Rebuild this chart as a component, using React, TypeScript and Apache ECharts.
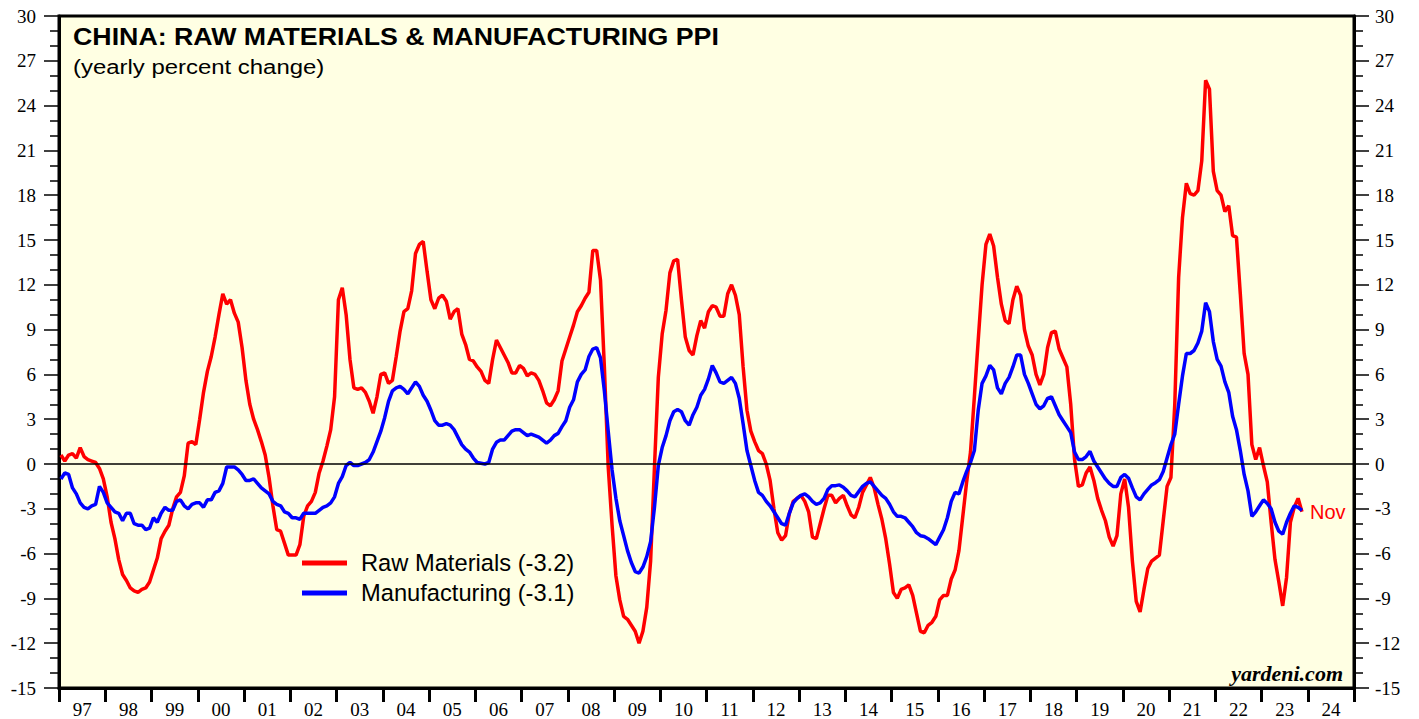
import React, { useEffect, useRef } from 'react';
import * as echarts from 'echarts';

const yearLabels = ['97', '98', '99', '00', '01', '02', '03', '04', '05', '06', '07', '08', '09', '10', '11', '12', '13', '14', '15', '16', '17', '18', '19', '20', '21', '22', '23', '24'];
const firstYear = 1997;

// Monthly, Jan 1997 .. Nov 2023 (yearly percent change)
const rawMaterials = [
  0.6, 0.2, 0.6, 0.7, 0.4, 1.1, 0.5, 0.3, 0.2, 0.1, -0.3, -1.0,
  -2.2, -3.9, -5.0, -6.4, -7.4, -7.8, -8.3, -8.5, -8.6, -8.4, -8.3, -7.9,
  -7.1, -6.3, -5.0, -4.5, -4.1, -3.0, -2.2, -1.9, -0.8, 1.4, 1.5, 1.3,
  3.0, 4.8, 6.2, 7.2, 8.5, 10.0, 11.4, 10.7, 11.0, 10.1, 9.5, 7.8,
  5.6, 4.0, 3.0, 2.3, 1.5, 0.6, -0.9, -2.8, -4.4, -4.5, -5.3, -6.1,
  -6.1, -6.1, -5.4, -3.5, -2.8, -2.5, -1.9, -0.6, 0.2, 1.2, 2.3, 4.5,
  11.0, 11.8, 10.0, 7.0, 5.1, 5.0, 5.1, 4.8, 4.2, 3.4, 4.5, 6.0,
  6.1, 5.4, 5.6, 7.2, 8.9, 10.2, 10.4, 11.6, 14.1, 14.7, 14.9, 12.9,
  11.0, 10.4, 11.1, 11.3, 10.9, 9.7, 10.2, 10.4, 8.7, 8.0, 7.0, 6.9,
  6.5, 6.2, 5.6, 5.4, 7.0, 8.3, 7.8, 7.3, 6.8, 6.1, 6.1, 6.6,
  6.4, 5.9, 6.1, 6.0, 5.6, 4.9, 4.1, 3.9, 4.3, 4.9, 6.9, 7.7,
  8.5, 9.3, 10.2, 10.6, 11.1, 11.5, 14.3, 14.3, 12.3, 6.5, -0.2, -4.1,
  -7.5, -9.1, -10.2, -10.4, -10.8, -11.2, -12.0, -11.2, -9.6, -6.5, -0.2, 5.8,
  8.7, 10.3, 12.8, 13.6, 13.7, 11.0, 8.5, 7.6, 7.3, 8.6, 9.6, 9.1,
  10.2, 10.6, 10.5, 9.9, 9.9, 11.4, 12.0, 11.3, 10.0, 6.5, 3.6, 2.2,
  1.5, 0.9, 0.7, 0.0, -1.1, -3.0, -4.6, -5.1, -4.8, -3.3, -2.5, -2.3,
  -2.1, -2.5, -3.2, -4.9, -5.0, -4.0, -3.0, -2.1, -2.1, -2.6, -2.3, -2.1,
  -2.8, -3.4, -3.6, -2.9, -1.9, -1.4, -0.9, -1.6, -2.7, -3.7, -5.0, -6.7,
  -8.6, -9.0, -8.4, -8.3, -8.1, -8.8, -10.0, -11.2, -11.3, -10.8, -10.6, -10.2,
  -9.1, -8.8, -8.8, -7.7, -7.1, -5.8, -3.5, -1.2, 0.8, 4.5, 8.3, 12.0,
  14.7, 15.4, 14.6, 12.5, 10.7, 9.6, 9.4, 11.0, 11.9, 11.3, 9.0, 7.9,
  7.3, 6.0, 5.3, 6.0, 7.8, 8.8, 8.9, 7.7, 7.1, 6.5, 4.0, 0.3,
  -1.5, -1.4, -0.6, -0.2, -1.1, -2.3, -3.1, -3.8, -4.9, -5.5, -4.8, -2.0,
  -1.0, -2.9, -6.5, -9.2, -9.9, -8.4, -7.0, -6.5, -6.3, -6.1, -3.8, -1.5,
  -0.9, 4.0, 12.5, 16.5, 18.8, 18.1, 18.0, 18.3, 20.3, 25.7, 25.1, 19.6,
  18.3, 18.0, 16.9, 17.3, 15.3, 15.2, 11.4, 7.4, 6.0, 1.3, 0.3, 1.1,
  -0.1, -1.2, -3.9, -6.4, -7.9, -9.5, -7.6, -3.9, -2.9, -2.3, -3.2,
];

const manufacturing = [
  -1.0, -0.6, -0.7, -1.6, -2.0, -2.6, -2.9, -3.0, -2.8, -2.7, -1.5, -1.9,
  -2.6, -2.9, -3.2, -3.3, -3.8, -3.3, -3.3, -4.0, -4.1, -4.1, -4.4, -4.3,
  -3.6, -3.9, -3.3, -2.9, -3.1, -3.1, -2.5, -2.4, -2.8, -3.0, -2.7, -2.6,
  -2.6, -2.9, -2.4, -2.4, -1.9, -1.8, -1.3, -0.2, -0.2, -0.2, -0.4, -0.7,
  -1.1, -1.1, -1.0, -1.3, -1.6, -1.8, -2.0, -2.5, -2.7, -2.8, -3.2, -3.3,
  -3.6, -3.6, -3.7, -3.3, -3.3, -3.3, -3.3, -3.1, -2.9, -2.8, -2.6, -2.2,
  -1.3, -0.85, -0.1, 0.1, -0.1, -0.1, 0.0, 0.1, 0.3, 0.8, 1.5, 2.2,
  3.1, 4.2, 4.9, 5.1, 5.2, 5.0, 4.7, 5.1, 5.5, 5.2, 4.6, 4.2,
  3.6, 2.9, 2.6, 2.6, 2.7, 2.6, 2.3, 1.8, 1.3, 1.0, 0.8, 0.4,
  0.1, 0.05, 0.0, 0.1, 1.0, 1.45, 1.6, 1.6, 1.9, 2.2, 2.3, 2.3,
  2.1, 1.9, 2.0, 1.9, 1.8, 1.6, 1.4, 1.6, 1.9, 2.05, 2.5, 2.9,
  3.8, 4.3, 5.5, 6.0, 6.3, 7.2, 7.7, 7.8, 7.1, 4.9, 2.2, -0.4,
  -2.3, -3.8, -4.8, -5.8, -6.6, -7.2, -7.3, -6.9, -6.2, -5.2, -2.9, -0.1,
  1.1, 1.9, 2.9, 3.5, 3.65, 3.5, 2.9, 2.6, 3.3, 3.8, 4.6, 5.0,
  5.7, 6.6, 6.1, 5.5, 5.4, 5.6, 5.8, 5.4, 4.4, 2.7, 0.9, -0.1,
  -1.1, -1.9, -2.1, -2.5, -2.8, -3.2, -3.6, -4.0, -4.1, -3.3, -2.6, -2.3,
  -2.1, -2.0, -2.2, -2.5, -2.7, -2.6, -2.3, -1.7, -1.45, -1.45, -1.4, -1.55,
  -1.8, -2.1, -2.2, -1.85, -1.5, -1.3, -1.2, -1.5, -1.8, -2.1, -2.3, -2.7,
  -3.2, -3.5, -3.5, -3.6, -3.9, -4.2, -4.6, -4.8, -4.85, -5.0, -5.2, -5.4,
  -4.9, -4.4, -3.6, -2.5, -1.9, -2.0, -1.2, -0.5, 0.1, 0.9, 3.6, 5.4,
  5.9, 6.6, 6.3, 5.1, 4.7, 5.4, 5.8, 6.5, 7.3, 7.3, 6.0, 5.4,
  4.7, 4.0, 3.7, 3.9, 4.4, 4.5, 3.9, 3.3, 2.9, 2.5, 2.1, 0.8,
  0.3, 0.3, 0.5, 0.85, 0.2, -0.2, -0.6, -1.0, -1.3, -1.5, -1.5, -0.9,
  -0.7, -0.95, -1.6, -2.2, -2.4, -2.0, -1.7, -1.4, -1.25, -1.05, -0.5, 0.4,
  1.3, 2.0, 4.0, 5.9, 7.4, 7.4, 7.6, 8.1, 8.9, 10.8, 10.2, 8.2,
  7.0, 6.55, 5.5, 4.8, 3.2, 2.3, 0.9, -0.7, -1.8, -3.5, -3.2, -2.8,
  -2.4, -2.65, -3.0, -3.9, -4.5, -4.7, -3.9, -3.3, -2.8, -2.9, -3.1,
];

const seriesNames = ['Raw Materials (-3.2)', 'Manufacturing (-3.1)'];
const lastMonthLabel = 'Nov';
const titleText = 'CHINA: RAW MATERIALS & MANUFACTURING PPI';
const subtitleText = '(yearly percent change)';
const sourceText = 'yardeni.com';

const monthCategories: string[] = [];
for (let i = 0; i < yearLabels.length * 12; i++) {
  const y = firstYear + Math.floor(i / 12);
  const m = (i % 12) + 1;
  monthCategories.push(`${y}-${m < 10 ? '0' + m : m}`);
}

const SERIF = '"Liberation Serif", "Times New Roman", serif';
const SANS = '"Liberation Sans", Arial, sans-serif';

function yAxisCfg(position: 'left' | 'right', margin: number) {
  return {
    type: 'value',
    position,
    min: -15,
    max: 30,
    interval: 3,
    axisLine: { show: true, onZero: false, lineStyle: { color: '#000', width: 3 } },
    axisTick: { show: true, length: 15, lineStyle: { color: '#000', width: 1.5 } },
    minorTick: { show: true, splitNumber: 3, length: 9, lineStyle: { color: '#000', width: 1.5 } },
    axisLabel: { show: true, margin, fontFamily: SERIF, fontSize: 19, color: '#000' },
    splitLine: { show: false },
  };
}

export default function App() {
  const ref = useRef<HTMLDivElement>(null);
  useEffect(() => {
    if (!ref.current) return;
    const chart = echarts.init(ref.current, undefined, { renderer: 'svg' });
    const option: any = {
      animation: false,
      backgroundColor: '#ffffff',
      grid: {
        left: 59,
        top: 16,
        width: 1295,
        height: 672,
        show: true,
        backgroundColor: '#FFFFE3',
        borderColor: '#000',
        borderWidth: 3,
      },
      legend: {
        data: seriesNames,
        orient: 'vertical',
        left: 302,
        top: 551,
        padding: 0,
        icon: 'rect',
        itemWidth: 45,
        itemHeight: 5,
        itemGap: 6,
        textStyle: { fontFamily: SANS, fontSize: 23.7, color: '#000', lineHeight: 24, padding: [0, 0, 0, 9] },
      },
      xAxis: [
        {
          type: 'category',
          data: yearLabels,
          boundaryGap: true,
          position: 'bottom',
          axisLine: { show: true, onZero: false, lineStyle: { color: '#000', width: 3 } },
          axisTick: { show: true, interval: 0, length: 14, lineStyle: { color: '#000', width: 3 } },
          axisLabel: { interval: 0, margin: 12, fontFamily: SERIF, fontSize: 19, color: '#000' },
          splitLine: { show: false },
        },
        {
          type: 'category',
          data: monthCategories,
          boundaryGap: true,
          show: false,
          axisLine: { onZero: false },
        },
      ],
      yAxis: [yAxisCfg('left', 23), yAxisCfg('right', 21)],
      graphic: [
        {
          type: 'text',
          x: 73,
          y: 37,
          scaleX: 1.115,
          style: {
            text: titleText,
            font: `bold 24px ${SANS}`,
            fill: '#000',
            textVerticalAlign: 'middle',
          },
        },
        {
          type: 'text',
          x: 73,
          y: 67,
          scaleX: 1.14,
          style: {
            text: subtitleText,
            font: `21px ${SANS}`,
            fill: '#000',
            textVerticalAlign: 'middle',
          },
        },
        {
          type: 'text',
          x: 1343,
          y: 673,
          style: {
            text: sourceText,
            font: `italic bold 22px ${SERIF}`,
            fill: '#000',
            textAlign: 'right',
            textVerticalAlign: 'middle',
          },
        },
      ],
      series: [
        {
          name: seriesNames[0],
          type: 'line',
          xAxisIndex: 1,
          yAxisIndex: 0,
          data: rawMaterials,
          symbol: 'none',
          showSymbol: false,
          lineStyle: { color: '#ff0000', width: 3.5 },
          itemStyle: { color: '#ff0000' },
          endLabel: {
            show: true,
            formatter: lastMonthLabel,
            color: '#ff0000',
            fontFamily: SANS,
            fontSize: 20,
            distance: 8,
          },
          markLine: {
            silent: true,
            symbol: 'none',
            label: { show: false },
            lineStyle: { color: '#000', width: 1.5, type: 'solid' },
            data: [{ yAxis: 0 }],
          },
          z: 2,
        },
        {
          name: seriesNames[1],
          type: 'line',
          xAxisIndex: 1,
          yAxisIndex: 0,
          data: manufacturing,
          symbol: 'none',
          showSymbol: false,
          lineStyle: { color: '#0000ff', width: 3.5 },
          itemStyle: { color: '#0000ff' },
          z: 3,
        },
      ],
    };
    chart.setOption(option);
    return () => chart.dispose();
  }, []);
  return <div ref={ref} style={{ position: 'fixed', left: 0, top: 0, width: 1419, height: 719 }} />;
}
